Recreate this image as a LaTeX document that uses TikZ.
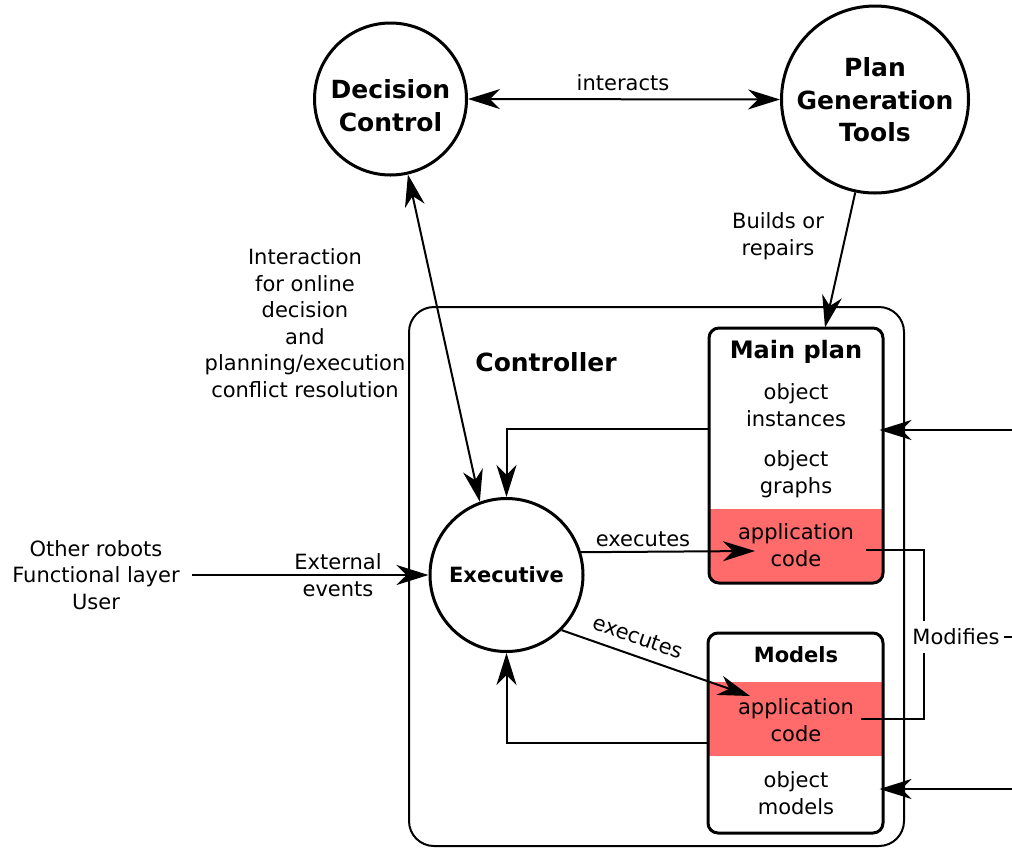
\documentclass[tikz,border=0pt]{standalone}
\usepackage{fontspec}
\setmainfont{DejaVu Sans}
\usetikzlibrary{arrows.meta,calc}
\definecolor{pinkc}{RGB}{255,107,107}
\tikzset{
  arr/.style={line width=2pt,-{Stealth[length=32pt,width=20pt,inset=10pt]}},
  dbl/.style={line width=2pt,{Stealth[length=32pt,width=20pt,inset=10pt]}-{Stealth[length=32pt,width=20pt,inset=10pt]}},
  conn/.style={line width=2pt},
  txt/.style={font=\fontsize{21}{26.5}\selectfont, align=center, inner sep=0pt},
  bigtxt/.style={align=center, inner sep=0pt, font=\fontsize{25}{32.5}\selectfont\bfseries},
  bigcirc/.style={draw, circle, line width=3pt, inner sep=0pt},
  boxc/.style={draw, line width=3pt, rounded corners=10pt, inner sep=0pt},
}
\begin{document}
\begin{tikzpicture}[x=1pt,y=-1pt]
\useasboundingbox (0,0) rectangle (1012,847);
% Controller
\node[draw, line width=2pt, rounded corners=25pt, minimum width=495pt, minimum height=539pt, inner sep=0pt] (ctrl) at (656.5,576.5) {};
\node[font=\fontsize{25}{30}\selectfont\bfseries, inner sep=0pt] (ctrllab) at (546,362) {Controller};
% circles
\node[bigcirc, minimum size=152pt] (dc) at (390.5,99) {};
\node[bigtxt] (dct) at (390.5,105.5) {Decision\\Control};
\node[bigcirc, minimum size=187pt] (pgt) at (875,99.5) {};
\node[bigtxt] (pgtt) at (875,100) {Plan\\Generation\\Tools};
\node[draw, circle, line width=3pt, inner sep=0pt, minimum size=153pt, font=\fontsize{21}{26}\selectfont\bfseries] (ex) at (506.5,575) {Executive};
% Main plan box
\node[boxc, minimum width=174pt, minimum height=255pt,
  path picture={\fill[pinkc, sharp corners] (path picture bounding box.south west) rectangle ([yshift=74pt]path picture bounding box.south east);}] (mp) at (796,455.5) {};
\node[font=\fontsize{24}{28}\selectfont\bfseries, inner sep=0pt] (mpt) at (796,352) {Main plan};
\node[txt] (mpoi) at (796,405) {object\\instances};
\node[txt] (mpog) at (796,474) {object\\graphs};
\node[txt] (mpa) at (796,545) {application\\code};
% Models box
\node[boxc, minimum width=175pt, minimum height=200pt,
  path picture={\fill[pinkc, sharp corners] ([yshift=77pt]path picture bounding box.south west) rectangle ([yshift=151pt]path picture bounding box.south east);}] (mo) at (795.5,733) {};
\node[font=\fontsize{21}{25}\selectfont\bfseries, inner sep=0pt] (mot) at (796,655) {Models};
\node[txt] (moa) at (796,720) {application\\code};
\node[txt] (moom) at (796,793) {object\\models};
% labels
\node[txt] (lint) at (623,83) {interacts};
\node[txt] (lbuild) at (778,236) {Builds or\\repairs};
\node[txt] (linter) at (305,323) {Interaction\\for online\\decision\\and\\planning/execution\\conflict resolution};
\node[txt] (oth) at (96,575) {Other robots\\Functional layer\\User};
\node[txt] (lext) at (338,575) {External\\events};
\node[txt] (lex1) at (643,539) {executes};
\node[txt, rotate=-19.5] (lex2) at (638,637) {executes};
% connectors
\draw[dbl] (dc.east) -- (pgt.west);
\draw[dbl] (dc.-77) -- (ex.110);
\draw[arr] (pgt.-102) -- ([xshift=29pt,yshift=-1pt]mp.north);
\draw[arr] ([yshift=26.5pt]mp.west) -| (ex.north);
\draw[arr] ([yshift=-10pt]mo.west) -| (ex.south);
\draw[arr] ([xshift=12pt]oth.east) -- (ex.west);
\coordinate (t1) at (755,551);
\coordinate (t2) at (750,696);
\draw[arr] (ex.17) -- (t1);
\draw[arr] (ex.-45) -- (t2);
\coordinate (r1) at (1016,430);
\coordinate (r2) at (1016,789);
\draw[arr] (r1) -- ([xshift=-5pt]r1 -| mp.east);
\draw[arr] (r2) -- ([xshift=-5pt]r2 -| mo.east);
\coordinate (mj) at (924,637);
\coordinate (mr) at (1016,637);
\draw[conn] ([xshift=12pt,yshift=-5pt]mpa.east) -| (mj);
\draw[conn] ([xshift=7pt,yshift=1pt]moa.east) -| (mj);
\draw[conn] (mj) -- (mr);
\node[txt, fill=white, inner xsep=4pt, inner ysep=8pt] (lmod) at (956,637) {Modifies};
\end{tikzpicture}
\end{document}
